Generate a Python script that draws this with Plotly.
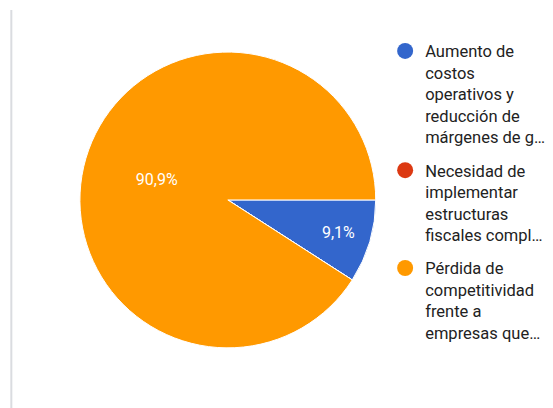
import plotly.graph_objects as go

labels = [
    "Aumento de<br>costos<br>operativos y<br>reducción de<br>márgenes de g…",
    "Necesidad de<br>implementar<br>estructuras<br>fiscales compl…",
    "Pérdida de<br>competitividad<br>frente a<br>empresas que…",
]
values = [1, 0, 10]
colors = ["#3366cc", "#dc3912", "#ff9900"]

fig = go.Figure()
fig.add_trace(go.Pie(labels=labels, values=values, sort=False,
                     direction="clockwise", rotation=90,
                     marker=dict(colors=colors, line=dict(color="white", width=1)),
                     textinfo="percent", texttemplate="%{percent:.1%}",
                     textposition="inside", insidetextorientation="horizontal",
                     insidetextfont=dict(color="white", size=16),
                     domain=dict(x=[0.130, 0.665], y=[0.167, 0.892]),
                     showlegend=False, hoverinfo="label+percent"))

# legend with round markers
for i, (lab, col) in enumerate(zip(labels, colors)):
    fig.add_trace(go.Scatter(x=[None], y=[None], mode="markers", name=lab,
                             legendgroup=f"g{i}",
                             marker=dict(color=col, size=16, symbol="circle")))

fig.add_shape(type="line", xref="paper", yref="paper", x0=0.006, x1=0.006, y0=0, y1=0.995,
              line=dict(color="#dadce0", width=2))

fig.update_layout(width=553, height=408, margin=dict(l=0, r=0, t=0, b=0),
                  paper_bgcolor="white", plot_bgcolor="white",
                  separators=",.",
                  font=dict(family="Roboto", size=16.5, color="#222222"),
                  xaxis=dict(visible=False), yaxis=dict(visible=False),
                  legend=dict(x=0.682, y=0.937, xanchor="left", yanchor="top",
                              valign="top", bgcolor="rgba(0,0,0,0)",
                              tracegroupgap=9,
                              font=dict(size=16.5, color="#222222")))

fig.write_html("out.html")
